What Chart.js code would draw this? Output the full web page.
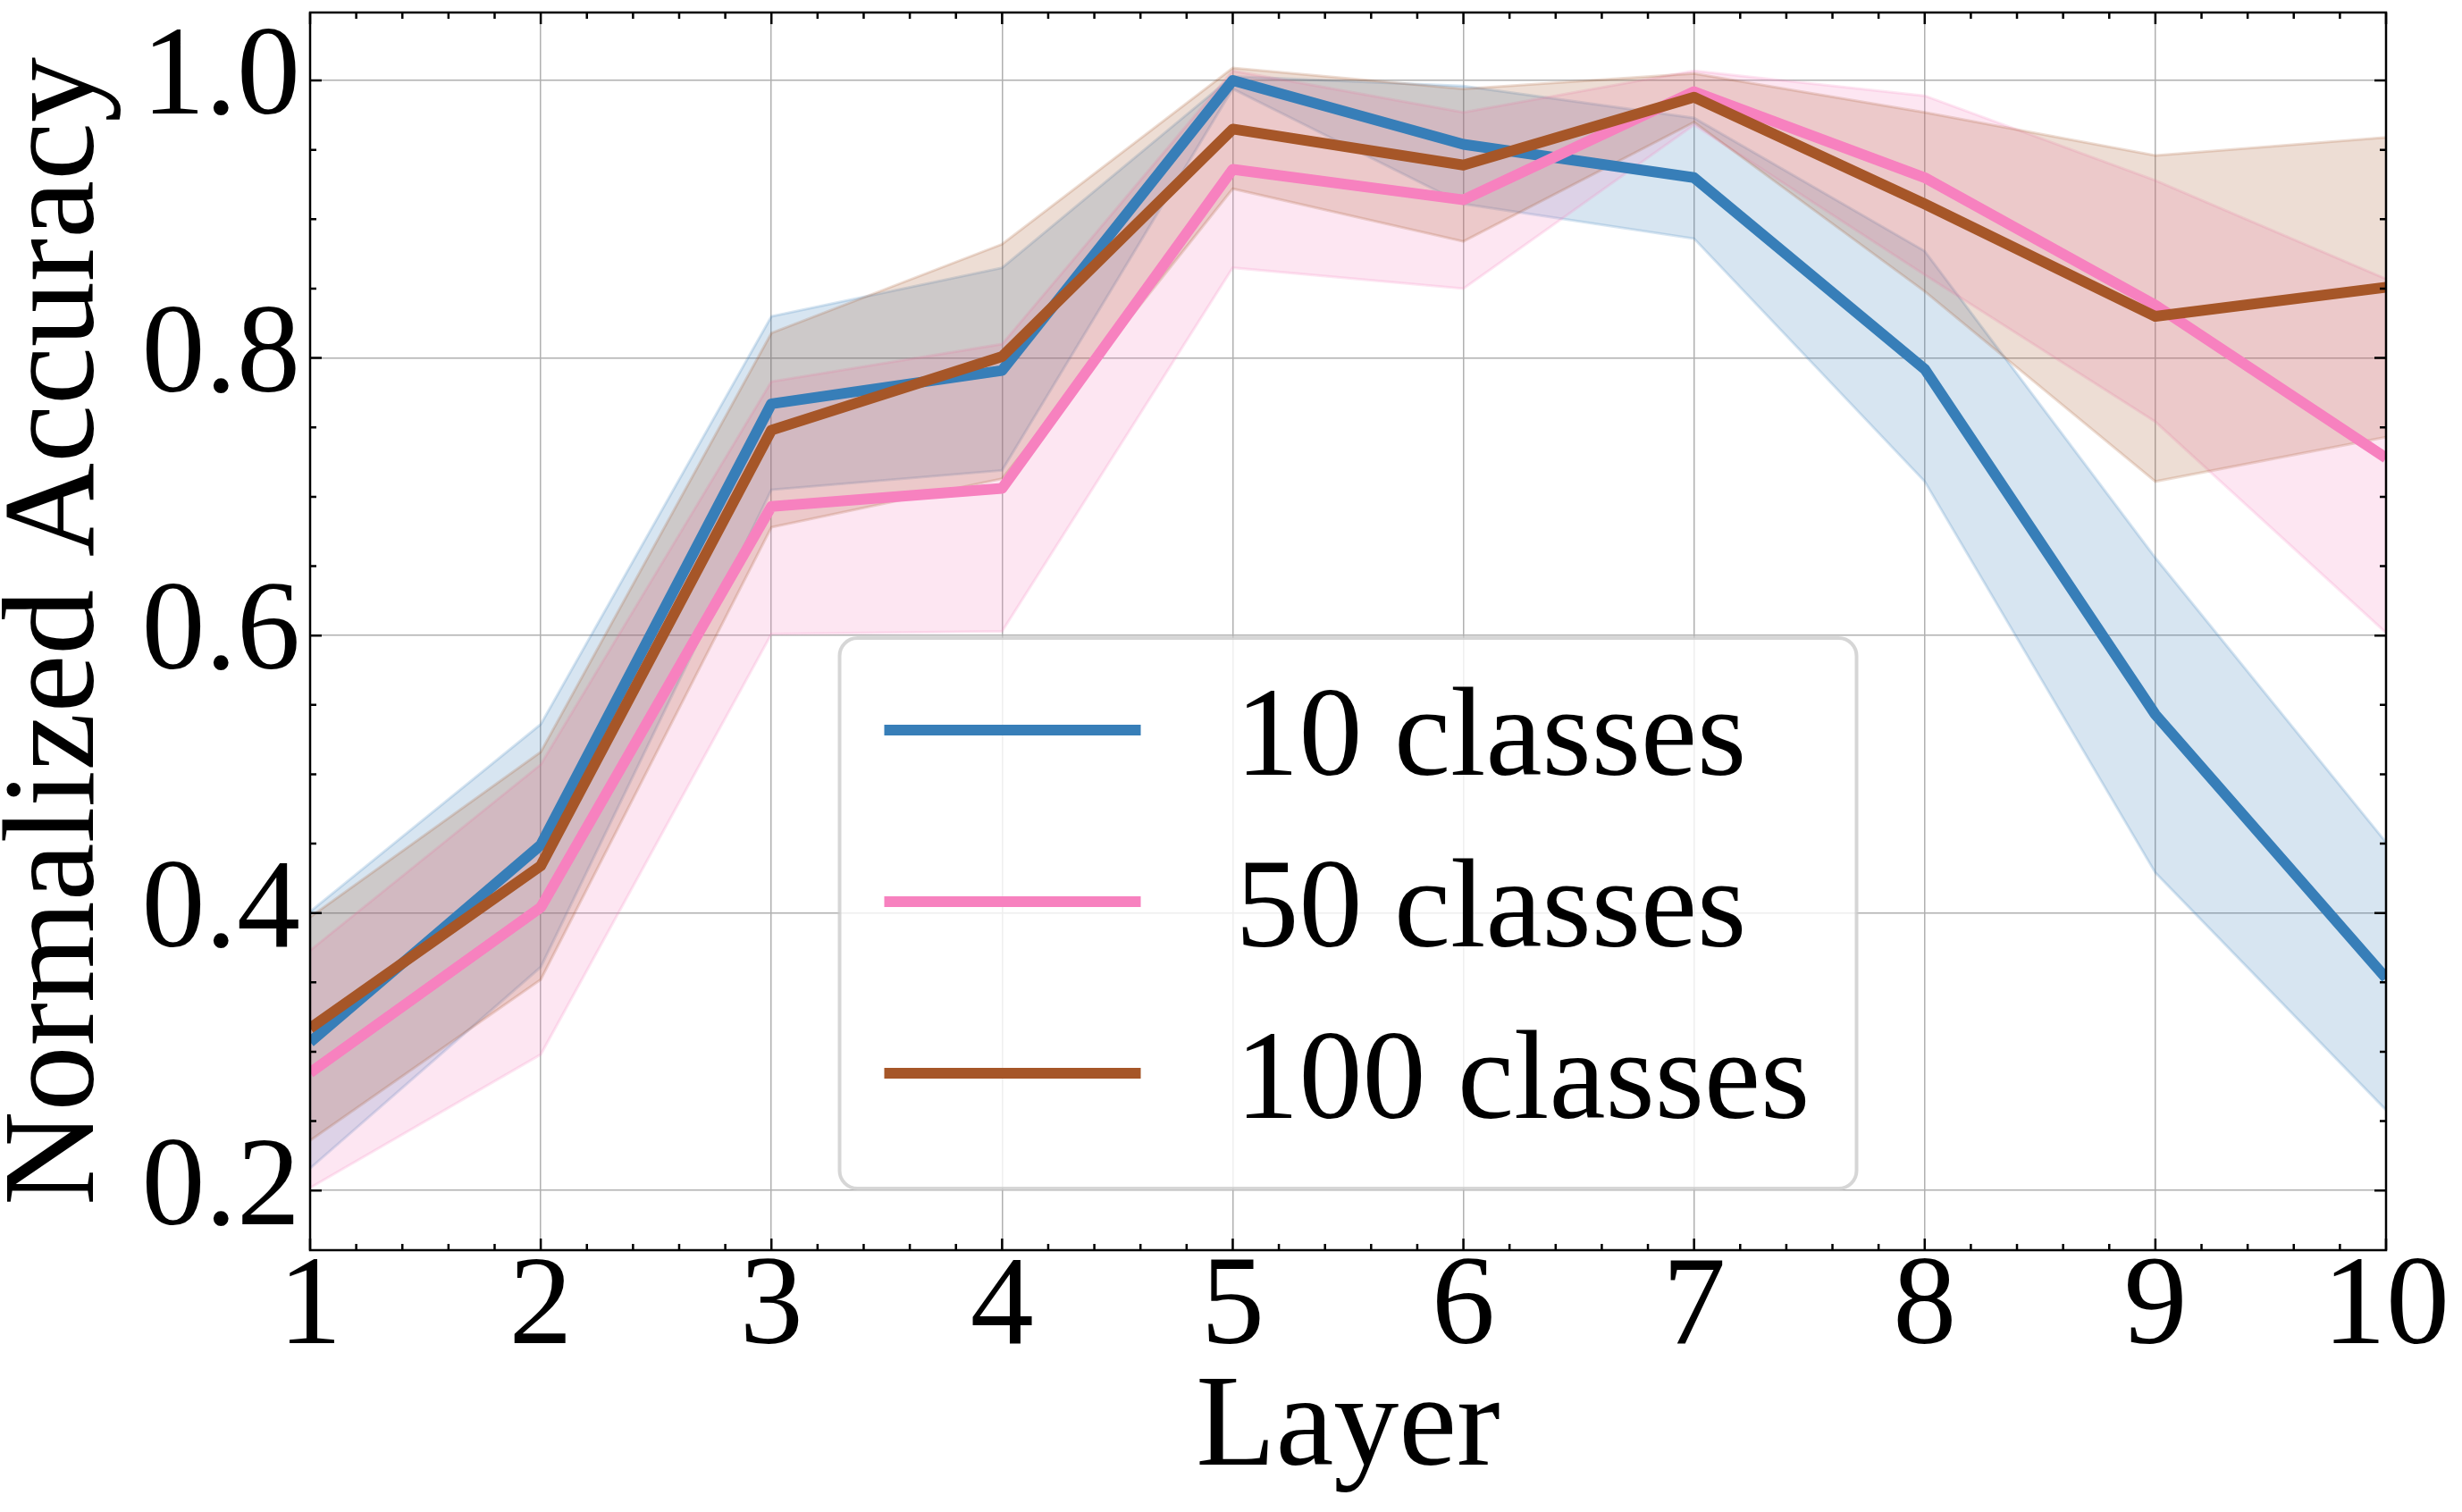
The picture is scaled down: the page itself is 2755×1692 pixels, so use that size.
<!DOCTYPE html>
<html>
<head>
<meta charset="utf-8">
<title>Normalized Accuracy by Layer</title>
<script src="https://cdn.jsdelivr.net/npm/chart.js@4.4.1/dist/chart.umd.min.js"></script>
<style>
  html, body { margin: 0; padding: 0; background: #fff; }
  #wrap { width: 2755px; height: 1692px; }
</style>
</head>
<body>
<div id="wrap"><canvas id="chart"></canvas></div>
<script>
// values
const layers = [1, 2, 3, 4, 5, 6, 7, 8, 9, 10];

const mean10 = [0.307, 0.449, 0.767, 0.791, 1.000, 0.954, 0.930, 0.792, 0.543, 0.353];
const hi10   = [0.401, 0.536, 0.830, 0.865, 1.003, 0.996, 0.973, 0.877, 0.656, 0.451];
const lo10   = [0.216, 0.361, 0.705, 0.719, 0.994, 0.911, 0.886, 0.711, 0.429, 0.258];

const mean50 = [0.285, 0.404, 0.693, 0.706, 0.936, 0.914, 0.992, 0.930, 0.838, 0.728];
const hi50   = [0.373, 0.507, 0.783, 0.810, 1.007, 0.977, 1.007, 0.989, 0.928, 0.857];
const lo50   = [0.202, 0.298, 0.601, 0.603, 0.865, 0.850, 0.968, 0.860, 0.754, 0.602];

const mean100 = [0.317, 0.434, 0.748, 0.801, 0.965, 0.939, 0.988, 0.911, 0.830, 0.851];
const hi100   = [0.397, 0.516, 0.818, 0.882, 1.009, 0.994, 1.005, 0.977, 0.946, 0.959];
const lo100   = [0.236, 0.352, 0.678, 0.713, 0.922, 0.884, 0.970, 0.848, 0.711, 0.743];

const seriesNames  = ['10 classes', '50 classes', '100 classes'];
const seriesColors = ['#377eb8', '#f781bf', '#a65628'];

const xTicks = [1, 2, 3, 4, 5, 6, 7, 8, 9, 10];
const xTickLabels = ['1', '2', '3', '4', '5', '6', '7', '8', '9', '10'];
const yTicks = [0.2, 0.4, 0.6, 0.8, 1.0];
const yTickLabels = ['0.2', '0.4', '0.6', '0.8', '1.0'];
const xMinorStep = 0.2;
const yMinorStep = 0.05;

const FONT = "'Liberation Serif', 'DejaVu Serif', serif";

function toPoints(vals) {
  return layers.map((x, i) => ({ x: x, y: vals[i] }));
}

function rgba(hex, a) {
  const n = parseInt(hex.slice(1), 16);
  return 'rgba(' + (n >> 16) + ',' + ((n >> 8) & 255) + ',' + (n & 255) + ',' + a + ')';
}

function band(hi, lo, color, order) {
  return [
    { data: toPoints(hi), borderColor: rgba(color, 0.2), borderWidth: 3, pointRadius: 0,
      fill: false, order: order, clip: 0, tension: 0 },
    { data: toPoints(lo), borderColor: rgba(color, 0.2), borderWidth: 3, pointRadius: 0,
      fill: '-1', backgroundColor: rgba(color, 0.2), order: order, clip: 0, tension: 0 }
  ];
}

function meanLine(vals, color, order) {
  return { data: toPoints(vals), borderColor: color, borderWidth: 12, pointRadius: 0,
           fill: false, order: order, clip: 0, tension: 0, borderJoinStyle: 'round' };
}

// ticks pointing inward on all four sides, plus the box around the plot
const framePlugin = {
  id: 'frame',
  afterDraw(chart) {
    const { ctx, chartArea: a, scales: { x, y } } = chart;
    ctx.save();
    ctx.strokeStyle = '#000';
    ctx.lineWidth = 2.5;
    ctx.beginPath();
    const isMajor = (list, v) => list.some(t => Math.abs(t - v) < 1e-6);
    for (let v = x.min; v <= x.max + 1e-9; v += xMinorStep) {
      const px = x.getPixelForValue(v);
      const len = isMajor(xTicks, v) ? 13 : 7;
      ctx.moveTo(px, a.bottom); ctx.lineTo(px, a.bottom - len);
      ctx.moveTo(px, a.top); ctx.lineTo(px, a.top + len);
    }
    const yStart = Math.ceil(y.min / yMinorStep) * yMinorStep;
    for (let v = yStart; v <= y.max + 1e-9; v += yMinorStep) {
      const py = y.getPixelForValue(v);
      const len = isMajor(yTicks, v) ? 13 : 7;
      ctx.moveTo(a.left, py); ctx.lineTo(a.left + len, py);
      ctx.moveTo(a.right, py); ctx.lineTo(a.right - len, py);
    }
    ctx.stroke();
    ctx.strokeRect(a.left, a.top, a.right - a.left, a.bottom - a.top);
    ctx.restore();
  }
};

// matplotlib-style legend box at lower centre of the axes
const legendPlugin = {
  id: 'boxLegend',
  afterDraw(chart) {
    const { ctx, chartArea: a } = chart;
    const w = 1138, h = 616;
    const left = (a.left + a.right) / 2 - w / 2;
    const top = a.bottom - 69 - h;
    ctx.save();
    ctx.beginPath();
    ctx.roundRect(left, top, w, h, 20);
    ctx.fillStyle = 'rgba(255,255,255,0.8)';
    ctx.fill();
    ctx.lineWidth = 4;
    ctx.strokeStyle = 'rgba(204,204,204,0.8)';
    ctx.stroke();
    ctx.font = '142px ' + FONT;
    ctx.fillStyle = '#000';
    ctx.textBaseline = 'alphabetic';
    seriesNames.forEach((name, i) => {
      const cy = top + 103 + i * 192;
      ctx.beginPath();
      ctx.strokeStyle = seriesColors[i];
      ctx.lineWidth = 12;
      ctx.lineCap = 'butt';
      ctx.moveTo(left + 50, cy);
      ctx.lineTo(left + 337, cy);
      ctx.stroke();
      ctx.fillText(name, left + 443, cy + 50);
    });
    ctx.restore();
  }
};

const datasets = [
  meanLine(mean10, seriesColors[0], 3),
  meanLine(mean50, seriesColors[1], 2),
  meanLine(mean100, seriesColors[2], 1),
  ...band(hi10, lo10, seriesColors[0], 6),
  ...band(hi50, lo50, seriesColors[1], 5),
  ...band(hi100, lo100, seriesColors[2], 4)
];

const ctx = document.getElementById('chart').getContext('2d');
new Chart(ctx, {
  type: 'line',
  data: { datasets: datasets },
  plugins: [framePlugin, legendPlugin],
  options: {
    responsive: true,
    maintainAspectRatio: false,
    devicePixelRatio: 1,
    animation: false,
    layout: { padding: { left: 0, right: 85, top: 14, bottom: 0 } },
    plugins: {
      legend: { display: false },
      tooltip: { enabled: false }
    },
    scales: {
      x: {
        type: 'linear',
        min: 1,
        max: 10,
        afterBuildTicks: s => { s.ticks = xTicks.map(v => ({ value: v })); },
        afterFit: s => { s.height = 293; s.paddingLeft = 0; s.paddingRight = 0; },
        grid: { color: '#b0b0b0', lineWidth: 1.5, drawTicks: false },
        border: { display: false },
        ticks: {
          color: '#000',
          font: { family: FONT, size: 142, lineHeight: 1 },
          padding: -4,
          maxRotation: 0,
          autoSkip: false,
          callback: (v, i) => xTickLabels[i]
        },
        title: {
          display: true,
          text: 'Layer',
          color: '#000',
          font: { family: FONT, size: 146, lineHeight: 1 },
          padding: { top: 0, bottom: 18 }
        }
      },
      y: {
        type: 'linear',
        min: 0.157,
        max: 1.049,
        afterBuildTicks: s => { s.ticks = yTicks.map(v => ({ value: v })); },
        afterFit: s => { s.width = 347; s.paddingTop = 0; s.paddingBottom = 0; },
        grid: { color: '#b0b0b0', lineWidth: 1.5, drawTicks: false },
        border: { display: false },
        ticks: {
          color: '#000',
          font: { family: FONT, size: 142, lineHeight: 1 },
          padding: 11,
          autoSkip: false,
          callback: (v, i) => yTickLabels[i]
        },
        title: {
          display: true,
          text: 'Normalized Accuracy',
          color: '#000',
          font: { family: FONT, size: 146, lineHeight: 0.9 },
          padding: { top: 0, bottom: 0 }
        }
      }
    }
  }
});
</script>
</body>
</html>
